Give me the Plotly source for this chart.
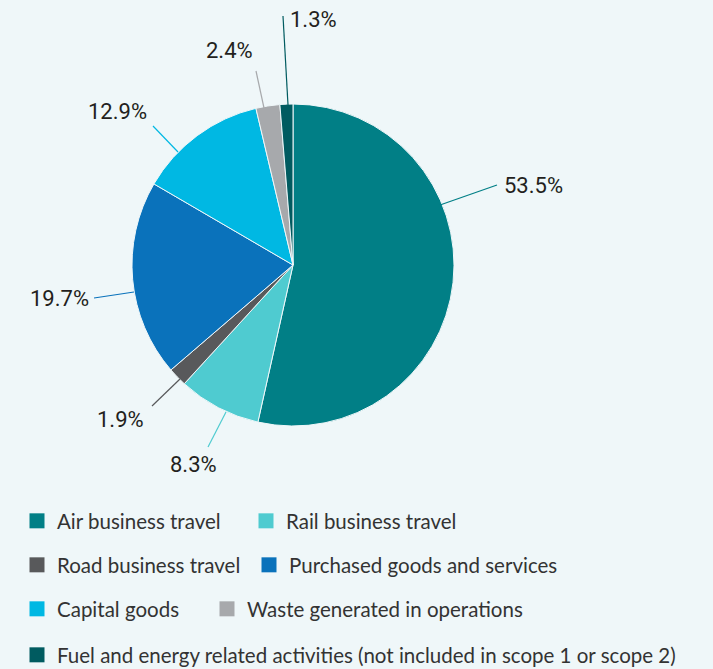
import plotly.graph_objects as go

# Emissions breakdown by category (share of total, %)
categories = [
    'Air business travel',
    'Rail business travel',
    'Road business travel',
    'Purchased goods and services',
    'Capital goods',
    'Waste generated in operations',
    'Fuel and energy related activities (not included in scope 1 or scope 2)',
]
shares = [53.5, 8.3, 1.9, 19.7, 12.9, 2.4, 1.3]
share_labels = ['53.5%', '8.3%', '1.9%', '19.7%', '12.9%', '2.4%', '1.3%']

COLORS = ['#017f86', '#4fcbd0', '#58595b', '#0a72bb', '#00b8e3', '#a7a9ac', '#005b60']
BG = '#eff7f9'
W, H = 713, 669

# pie centre / radius in pixels
CX, CY, R = 293, 265, 161

# leader line (start, end) and text anchor, in pixels
LABEL_LAYOUT = [
    ((440, 205), (497, 185), (502, 185), 'left'),
    ((226, 412), (208, 447), (193, 464), 'center'),
    ((180, 379), (152, 406), (120, 419), 'center'),
    ((134, 292), (94, 298), (59, 298), 'center'),
    ((178, 152), (153, 126), (117, 111), 'center'),
    ((264, 108), (256, 71), (229, 50), 'center'),
    ((288, 105), (283, 16), (313, 19), 'center'),
]

# legend text start x / row centre y, in pixels
LEGEND_POS = [(58, 521), (287, 521), (58, 565), (290, 565), (58, 609), (248, 609), (58, 655)]


def px(x, y):
    return x / W, 1 - y / H


fig = go.Figure()

x0, y0 = px(CX - R, CY + R)
x1, y1 = px(CX + R, CY - R)
fig.add_trace(go.Pie(
    labels=categories,
    values=shares,
    sort=False,
    direction='clockwise',
    rotation=0,
    textinfo='none',
    hoverinfo='label+percent',
    marker=dict(colors=COLORS, line=dict(color=BG, width=1)),
    domain=dict(x=[x0, x1], y=[y0, y1]),
    showlegend=False,
))

for (a, b, t, anchor), lab, col in zip(LABEL_LAYOUT, share_labels, COLORS):
    ax, ay = px(*a)
    bx, by = px(*b)
    fig.add_shape(type='line', xref='paper', yref='paper',
                  x0=ax, y0=ay, x1=bx, y1=by,
                  line=dict(color=col, width=1.2))
    tx, ty = px(*t)
    fig.add_annotation(x=tx, y=ty, xref='paper', yref='paper',
                       text=lab, showarrow=False,
                       xanchor=anchor, yanchor='middle',
                       font=dict(family='Roboto', size=22, color='#231f20'))

# legend entries as dummy traces, one legend each so they sit like the original
legend_layouts = {}
for i, (name, col, (tx, ty)) in enumerate(zip(categories, COLORS, LEGEND_POS)):
    key = 'legend' if i == 0 else f'legend{i + 1}'
    fig.add_trace(go.Scatter(
        x=[None], y=[None], mode='markers', name=name,
        marker=dict(symbol='square', size=15, color=col),
        legend=key, showlegend=True, hoverinfo='skip',
    ))
    lx, ly = px(tx - 41, ty)
    legend_layouts[key] = dict(
        x=lx, y=ly, xanchor='left', yanchor='middle',
        bgcolor='rgba(0,0,0,0)', borderwidth=0,
        font=dict(family='Lato', size=20.5, color='#333333'),
        itemclick=False, itemdoubleclick=False,
    )

fig.update_layout(
    width=W, height=H,
    margin=dict(l=0, r=0, t=0, b=0, autoexpand=False),
    paper_bgcolor=BG,
    plot_bgcolor=BG,
    xaxis=dict(visible=False),
    yaxis=dict(visible=False),
    **legend_layouts,
)

fig.write_html('out.html', config={'displayModeBar': False},
               post_script="document.body.style.margin='0';")
